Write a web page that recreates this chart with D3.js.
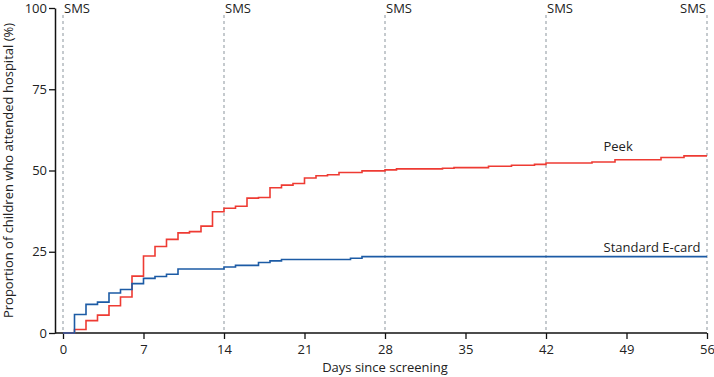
<!DOCTYPE html>
<html>
<head>
<meta charset="utf-8">
<script src="https://cdn.jsdelivr.net/npm/d3@7"></script>
<style>
  body { margin: 0; background: #fff; }
  text { font-family: "Open Sans", sans-serif; }
</style>
</head>
<body>
<div id="chart"></div>
<script>
// data (days since screening, cumulative %)
const peekDays   = [0, 1, 2, 3, 4, 5, 6, 7, 8, 9, 10, 11, 12, 13, 14, 15, 16, 17, 18, 19, 20, 21, 22, 23, 24, 26, 28, 29, 33, 34, 37, 39, 41, 42, 46, 48, 52, 54, 56];
const peekValues = [0, 1.1, 3.8, 5.5, 8.4, 11.1, 17.5, 23.7, 26.6, 28.8, 30.8, 31.2, 32.9, 37.3, 38.4, 39.0, 41.5, 41.7, 44.7, 45.5, 46.0, 47.7, 48.4, 48.7, 49.4, 49.9, 50.2, 50.5, 50.7, 50.9, 51.3, 51.6, 51.9, 52.3, 52.6, 53.3, 54.0, 54.5, 54.5];

const cardDays   = [0, 1, 2, 3, 4, 5, 6, 7, 8, 9, 10, 14, 15, 17, 18, 19, 25, 26, 56];
const cardValues = [0, 5.7, 8.8, 9.5, 12.3, 13.4, 15.2, 16.8, 17.4, 18.1, 19.7, 20.3, 20.8, 21.7, 22.2, 22.6, 23.0, 23.5, 23.5];

const smsDays = [0, 14, 28, 42, 56];
const xTicks = [0, 7, 14, 21, 28, 35, 42, 49, 56];
const yTicks = [0, 25, 50, 75, 100];
const seriesNames = ["Peek", "Standard E-card"];
const labelDay = 47;

const width = 714, height = 377;
const margin = {top: 8, right: 7, bottom: 44, left: 63};

const svg = d3.select("#chart").append("svg")
    .attr("width", width)
    .attr("height", height);

const x = d3.scaleLinear().domain([0, 56]).range([margin.left, width - margin.right]);
const y = d3.scaleLinear().domain([0, 100]).range([height - margin.bottom, margin.top]);

// SMS reminder lines
svg.append("g")
  .selectAll("line")
  .data(smsDays)
  .join("line")
    .attr("x1", d => x(d)).attr("x2", d => x(d))
    .attr("y1", 15).attr("y2", y(0))
    .attr("stroke", "#b3b9bf")
    .attr("stroke-width", 1.5)
    .attr("stroke-dasharray", "3,3");

svg.append("g")
  .selectAll("text")
  .data(smsDays)
  .join("text")
    .attr("x", d => d === 56 ? x(d) - 1 : x(d) + 1)
    .attr("y", 13)
    .attr("text-anchor", d => d === 56 ? "end" : "start")
    .attr("font-size", 13)
    .attr("fill", "#222")
    .text("SMS");

// axes
const xAxis = svg.append("g")
    .attr("transform", `translate(0,${y(0)})`)
    .call(d3.axisBottom(x).tickValues(xTicks).tickSize(6).tickSizeOuter(0));
xAxis.select(".domain").attr("d", `M${margin.left - 8},0H${x(56)}`);

const yAxis = svg.append("g")
    .attr("transform", `translate(${margin.left - 8},0)`)
    .call(d3.axisLeft(y).tickValues(yTicks).tickSize(6).tickSizeOuter(0));

[xAxis, yAxis].forEach(a => {
  a.select(".domain").attr("stroke", "#111").attr("stroke-width", 1.5);
  a.selectAll(".tick line").attr("stroke", "#111").attr("stroke-width", 1.3);
  a.selectAll(".tick text")
    .attr("font-size", 13)
    .attr("font-family", "'Open Sans', sans-serif")
    .attr("fill", "#222");
});
xAxis.selectAll(".tick text").attr("dy", "0.9em");
yAxis.selectAll(".tick text").attr("x", -8);

svg.append("text")
    .attr("x", (x(0) + x(56)) / 2)
    .attr("y", height - 5)
    .attr("text-anchor", "middle")
    .attr("font-size", 13)
    .attr("fill", "#222")
    .text("Days since screening");

svg.append("text")
    .attr("transform", `translate(13,${(y(0) + y(100)) / 2}) rotate(-90)`)
    .attr("text-anchor", "middle")
    .attr("font-size", 13)
    .attr("fill", "#222")
    .text("Proportion of children who attended hospital (%)");

// step lines
const line = d3.line()
    .x(d => x(d[0]))
    .y(d => y(d[1]))
    .curve(d3.curveStepAfter);

const series = [
  {name: seriesNames[0], days: peekDays, values: peekValues, color: "#ee3b33"},
  {name: seriesNames[1], days: cardDays, values: cardValues, color: "#1c5ba5"}
];

svg.append("g")
  .selectAll("path")
  .data(series)
  .join("path")
    .attr("fill", "none")
    .attr("stroke", d => d.color)
    .attr("stroke-width", 1.6)
    .attr("d", d => line(d.days.map((t, i) => [t, d.values[i]])));

svg.append("g")
  .selectAll("text")
  .data(series)
  .join("text")
    .attr("x", x(labelDay))
    .attr("y", d => y(d.values[d.values.length - 1]) - 5)
    .attr("font-size", 13)
    .attr("fill", "#222")
    .text(d => d.name);
</script>
</body>
</html>
